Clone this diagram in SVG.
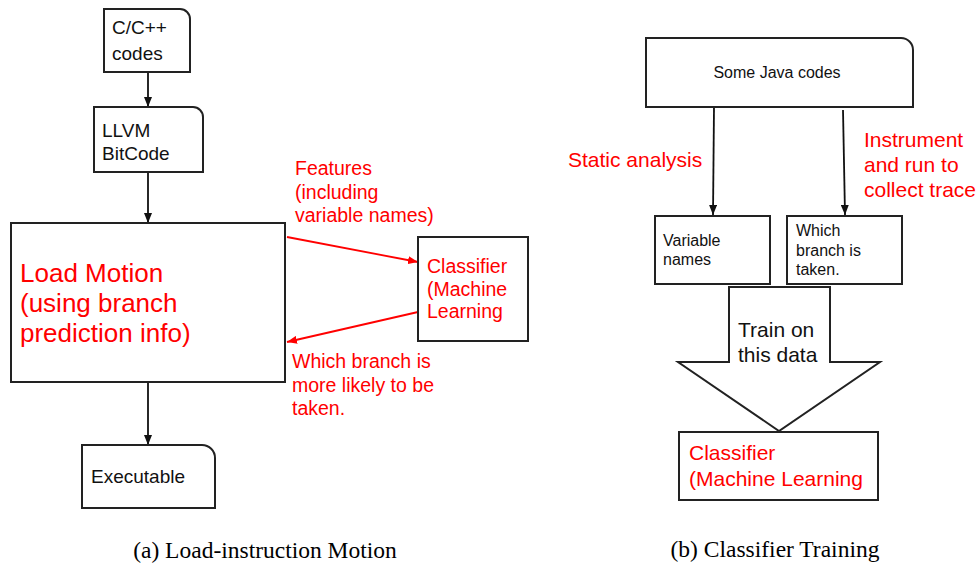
<svg xmlns="http://www.w3.org/2000/svg" width="979" height="565" viewBox="0 0 979 565">
<style>
.box{fill:#fff;stroke:#222;stroke-width:2}
.blk{font-family:"Liberation Sans",Arial,sans-serif;fill:#111}
.red{font-family:"Liberation Sans",Arial,sans-serif;fill:#ff0000}
.cap{font-family:"Liberation Serif","Times New Roman",serif;fill:#000;font-size:23.5px;text-anchor:middle}
.ln{stroke:#111;stroke-width:1.8;fill:none}
.rln{stroke:#ff0000;stroke-width:1.8;fill:none}
</style>
<defs>
<marker id="rah" viewBox="0 0 10 10" refX="10" refY="5" markerWidth="10" markerHeight="8" markerUnits="userSpaceOnUse" orient="auto" preserveAspectRatio="none"><path d="M0,0 L10,5 L0,10 Z" fill="#ff0000"/></marker>
<marker id="ahb" viewBox="0 0 10 10" refX="10" refY="5" markerWidth="10" markerHeight="8" markerUnits="userSpaceOnUse" orient="auto" preserveAspectRatio="none"><path d="M0,0 L10,5 L0,10 Z" fill="#111"/></marker>
</defs>
<rect width="979" height="565" fill="#fff"/>
<g id="connectors">
<line class="ln" x1="148" y1="72" x2="148" y2="107" marker-end="url(#ahb)"/>
<line class="ln" x1="148" y1="172" x2="148" y2="223" marker-end="url(#ahb)"/>
<line class="ln" x1="148" y1="382" x2="148" y2="445" marker-end="url(#ahb)"/>
<line class="rln" x1="287" y1="237" x2="418" y2="262" marker-end="url(#rah)"/>
<line class="rln" x1="418" y1="312" x2="287" y2="342" marker-end="url(#rah)"/>
<line class="ln" x1="714" y1="107" x2="713" y2="215" marker-end="url(#ahb)"/>
<line class="ln" x1="843" y1="110" x2="845" y2="215" marker-end="url(#ahb)"/>
</g>
<g id="n-cpp">
<path class="box" d="M104,9 H180 A10,10 0 0 1 190,19 V72 H104 Z"/>
<text class="blk" font-size="19" x="112" y="34">C/C++</text>
<text class="blk" font-size="19" x="112" y="60">codes</text>
</g>
<g id="n-llvm">
<path class="box" d="M94,107 H193 A10,10 0 0 1 203,117 V172 H94 Z"/>
<text class="blk" font-size="19" x="102" y="137">LLVM</text>
<text class="blk" font-size="19" x="102" y="160">BitCode</text>
</g>
<g id="n-load">
<rect class="box" x="11" y="223" width="274" height="159"/>
<text class="red" font-size="26" x="20" y="282">Load Motion</text>
<text class="red" font-size="26" x="20" y="312">(using branch</text>
<text class="red" font-size="26" x="20" y="342">prediction info)</text>
</g>
<g id="l-features">
<text class="red" font-size="19.5" x="295" y="175">Features</text>
<text class="red" font-size="19.5" x="295" y="199">(including</text>
<text class="red" font-size="19.5" x="295" y="222">variable names)</text>
</g>
<g id="n-classifier1">
<rect class="box" x="418" y="237" width="110" height="104"/>
<text class="red" font-size="19.5" x="427" y="273">Classifier</text>
<text class="red" font-size="19.5" x="427" y="296">(Machine</text>
<text class="red" font-size="19.5" x="427" y="318">Learning</text>
</g>
<g id="l-which">
<text class="red" font-size="19.5" x="292" y="368">Which branch is</text>
<text class="red" font-size="19.5" x="292" y="392">more likely to be</text>
<text class="red" font-size="19.5" x="292" y="415">taken.</text>
</g>
<g id="n-exec">
<path class="box" d="M82,445 H202 A13,13 0 0 1 215,458 V508 H82 Z"/>
<text class="blk" font-size="19" x="91" y="483">Executable</text>
</g>
<g id="n-java">
<path class="box" d="M646,38 H901 A12,12 0 0 1 913,50 V107 H646 Z"/>
<text class="blk" font-size="16" x="777" y="78" text-anchor="middle">Some Java codes</text>
</g>
<g id="l-static">
<text class="red" font-size="21" x="568" y="167">Static analysis</text>
</g>
<g id="l-instrument">
<text class="red" font-size="21" x="864" y="147">Instrument</text>
<text class="red" font-size="21" x="864" y="172">and run to</text>
<text class="red" font-size="21" x="864" y="197">collect trace</text>
</g>
<g id="n-varnames">
<rect class="box" x="655" y="216" width="115" height="68"/>
<text class="blk" font-size="16" x="663" y="246">Variable</text>
<text class="blk" font-size="16" x="663" y="265">names</text>
</g>
<g id="n-whichtaken">
<rect class="box" x="787" y="216" width="115" height="68"/>
<text class="blk" font-size="16" x="796" y="236">Which</text>
<text class="blk" font-size="16" x="796" y="256">branch is</text>
<text class="blk" font-size="16" x="796" y="275">taken.</text>
</g>
<g id="n-train">
<path class="box" d="M729,287 H830 V362 H880 L779,431 L678,362 H729 Z"/>
<text class="blk" font-size="21" x="738" y="337">Train on</text>
<text class="blk" font-size="21" x="738" y="362">this data</text>
</g>
<g id="n-classifier2">
<rect class="box" x="679" y="432" width="199" height="68"/>
<text class="red" font-size="21" x="689" y="460">Classifier</text>
<text class="red" font-size="21" x="689" y="486">(Machine Learning</text>
</g>
<g id="captions">
<text class="cap" x="265" y="558">(a) Load-instruction Motion</text>
<text class="cap" x="775" y="557">(b) Classifier Training</text>
</g>
</svg>
